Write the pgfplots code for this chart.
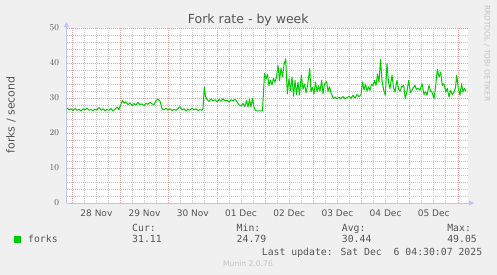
\documentclass[border=0pt]{standalone}
\usepackage{pgfplots}
\pgfplotsset{compat=1.18}
\usepackage{pgfplotstable}
\usepackage{fontspec}
\setmainfont{DejaVu Sans}
\newfontfamily\mono{DejaVu Sans Mono}
\usetikzlibrary{arrows.meta}
\definecolor{bg}{HTML}{F0F0F0}
\definecolor{txt}{HTML}{555555}
\definecolor{lgt}{HTML}{C4C4C4}
\definecolor{axc}{RGB}{190,195,245}
\definecolor{mingrid}{RGB}{200,200,200}
\definecolor{majgrid}{RGB}{232,160,160}
\definecolor{forkgreen}{HTML}{00CC00}

\pgfplotstableread{
x y
67 27.2
69 26.6
71 26.9
73 26.4
75 27.0
77 26.5
79 26.8
81 26.3
83 26.9
85 26.6
87 27.1
89 26.5
91 26.7
93 26.4
95 26.8
97 26.6
99 27.3
101 26.5
103 26.9
105 26.4
107 26.7
109 26.5
111 27.0
113 26.3
115 26.8
117 27.4
119 26.7
121 28.2
122.5 29.4
124 28.5
126 28.9
128 28.1
130 28.6
132 27.9
134 28.4
136 28.0
138 28.7
140 28.1
142 28.3
144 27.8
146 28.5
148 28.2
150 28.8
152 28.3
154 28.1
156 29.2
158 29.7
160 29.1
162 27.0
164 26.6
166 27.1
168 26.5
170 26.9
172 26.4
174 26.8
176 26.5
178 27.0
180 27.5
182 26.6
184 26.9
186 26.3
188 26.8
190 26.5
192 27.1
194 26.6
196 26.9
198 26.4
200 26.7
202 26.5
203 27.0
204.3 33.1
205.5 30.5
207 29.6
209 29.0
211 29.7
213 29.2
215 29.5
217 28.9
219 29.6
221 29.1
223 29.8
225 29.2
227 29.4
229 28.8
231 29.5
233 29.2
235 29.6
237 28.9
239 28.0
241 27.7
243 28.4
245 27.6
246.5 29.3
248 27.5
249.5 29.6
251 27.4
252.5 29.9
254 27.3
255.5 26.4
257 26.3
259 26.3
261 26.3
262.5 26.4
264.5 37.0
266 35.5
267.5 36.8
269 33.5
270.5 35.0
272 33.8
273.5 35.6
275 34.5
276.5 36.0
278 39.3
279.5 35.0
281 38.5
282.5 36.0
284 39.5
285.7 41.2
287.3 31.2
289 35.5
290.5 32.0
292 36.0
293.5 30.5
295 35.0
296.5 31.0
298 34.5
299.5 30.8
301.3 36.5
303 32.5
304.5 34.0
306 31.5
307.5 33.5
309.7 38.4
311 31.8
312.5 33.0
314 31.2
315.5 34.5
317 31.8
318.5 33.5
320 32.0
321.7 35.1
323 31.2
324.5 34.0
326.7 34.7
328 31.8
329.5 33.2
331 31.5
333.3 29.8
335 30.3
337 29.8
339 30.2
341 29.9
343 30.4
345 29.8
347 30.1
349 30.5
351 29.9
353 30.8
355 30.0
357 31.0
359 30.4
361 30.9
362.5 34.6
364 32.3
365.5 34.0
367 32.0
368.5 33.2
370 32.2
371.5 34.0
373 33.5
374.5 35.0
376 33.6
377.5 36.8
379 34.5
380.5 41.0
382 35.0
383.5 32.5
385.3 30.8
387 39.8
388.5 34.5
390 32.7
392 36.5
393.5 33.0
395 31.7
397 35.0
398.5 32.5
400 31.9
401.5 33.2
403.7 33.6
405.3 29.8
407 32.0
408.7 35.0
410.5 31.5
412 32.2
413.5 33.0
415 33.6
416.5 32.4
418 32.8
420 32.2
422 34.1
424 31.0
425.5 31.8
427 30.8
429 33.6
430.5 32.0
432 31.7
434 29.8
435.5 33.0
437.3 38.2
439 36.0
440.7 37.4
442.3 33.6
444 34.1
445.7 31.7
447.3 32.7
449 30.3
450.7 32.2
452.3 31.0
454 31.7
455.5 33.0
456.7 36.5
458.3 32.7
460 30.8
461.5 34.1
463 31.7
464.5 32.7
466 31.9
}\forks

\begin{document}
\begin{tikzpicture}[x=1pt,y=1pt]
\fill[bg] (0,0) rectangle (497,275);
\useasboundingbox (0,0) rectangle (497,275);
\begin{axis}[
  at={(66.5pt,72pt)}, anchor=south west,
  scale only axis, width=401.5pt, height=175pt,
  xmin=66.5, xmax=468, ymin=0, ymax=50,
  axis background/.style={fill=white},
  axis lines=left,
  axis line style={draw=axc, line width=0.8pt, shorten >=-6pt, -{Triangle[length=5pt,width=5pt,fill=axc]}},
  ytick={0,10,20,30,40,50},
  minor y tick num=4,
  xtick={72.3,120.5,168.7,216.9,265.1,313.3,361.5,409.7,457.9},
  xticklabels={},
  minor xtick={84.35,96.4,108.45,132.55,144.6,156.65,180.75,192.8,204.85,228.95,241,253.05,277.15,289.2,301.25,325.35,337.4,349.45,373.55,385.6,397.65,421.75,433.8,445.85},
  extra x ticks={96.4,144.6,192.8,241,289.2,337.4,385.6,433.8},
  extra x tick labels={28 Nov,29 Nov,30 Nov,01 Dec,02 Dec,03 Dec,04 Dec,05 Dec},
  extra x tick style={grid=none},
  xmajorgrids=true, xminorgrids=true,
  ymajorgrids=true, yminorgrids=true,
  major grid style={draw=majgrid, line width=0.8pt, dash pattern=on 1pt off 1pt},
  minor grid style={draw=mingrid, line width=0.8pt, dash pattern=on 1pt off 1pt},
  major tick length=0pt, minor tick length=0pt,
  tick style={draw=none},
  ticklabel style={font=\fontsize{9}{10.8}\selectfont, text=txt},
  yticklabel style={xshift=-4pt},
  xticklabel style={yshift=-3pt},
  legend style={at={(axis description cs:-0.1308,-0.2086)}, anchor=west, draw=none, fill=none, inner sep=0pt,
    font=\mono\fontsize{9.8}{11}\selectfont, text=txt, nodes={inner sep=0pt}},
  legend image code/.code={\fill[forkgreen] (0pt,-3pt) rectangle (6pt,3pt);},
]
\addplot[forkgreen, line width=1pt, line join=round] table[x=x,y=y] {\forks};
\addlegendentry{\hspace*{7pt}forks}
\end{axis}
\node[anchor=base, font=\fontsize{12.5}{15}\selectfont, text=txt] at (248.3,251.7) {Fork rate - by week};
\node[rotate=90, font=\fontsize{11}{13}\selectfont, text=txt] at (11,160) {forks / second};
\begin{scope}[every node/.style={anchor=base west, inner sep=0pt, font=\mono\fontsize{9.8}{11}\selectfont, text=txt}]
\node at (132,43.7) {Cur:};
\node at (132,32.1) {31.11};
\node at (236.5,43.7) {Min:};
\node at (236.5,32.1) {24.79};
\node at (341.7,43.7) {Avg:};
\node at (341.7,32.1) {30.44};
\node at (447.1,43.7) {Max:};
\node at (447.1,32.1) {49.05};
\node at (261.7,19.7) {Last update: Sat Dec~~6 04:30:07 2025};
\end{scope}
\node[font=\fontsize{7.6}{9}\selectfont, text=lgt] at (248,11) {Munin 2.0.76};
\node[rotate=-90, font=\fontsize{7.5}{9}\selectfont, text=lgt] at (487,221.5) {RRDTOOL / TOBI OETIKER};
\end{tikzpicture}
\end{document}
